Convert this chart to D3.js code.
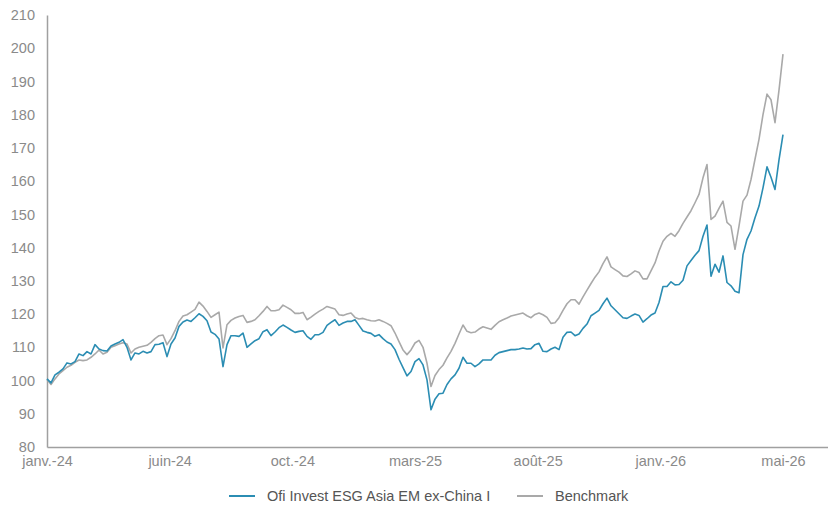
<!DOCTYPE html>
<html><head><meta charset="utf-8">
<script src="https://cdn.jsdelivr.net/npm/d3@7"></script>
<style>
html,body{margin:0;padding:0;background:#fff;}
text{font-family:"Liberation Sans",Arial,sans-serif;}
</style></head>
<body><svg id="c" width="828" height="506"></svg>
<script>
// Series names
const seriesNames = ["Ofi Invest ESG Asia EM ex-China I", "Benchmark"];
// X tick labels (evenly spaced over the observation index)
const tickLabels = ["janv.-24","juin-24","oct.-24","mars-25","août-25","janv.-26","mai-26"];
// Y ticks
const yTicks = [80,90,100,110,120,130,140,150,160,170,180,190,200,210];

// Fund (base 100), sampled observations
const fund = [
100.5, 99.3,101.7,102.5,103.5,105.3,105.0,105.7,108.0,107.5,
108.7,108.0,110.8,109.5,109.0,108.9,110.4,111.0,111.5,112.3,
110.0,106.2,108.3,108.0,108.8,108.3,108.7,110.8,110.9,111.4,
107.2,111.0,112.8,116.3,117.6,118.2,117.8,118.9,120.1,119.3,
118.0,114.6,113.9,112.5,104.2,110.8,113.5,113.5,113.3,114.3,
110.0,111.0,112.0,112.6,114.7,115.3,113.5,114.6,115.9,116.7,
116.0,115.2,114.5,114.8,115.0,113.3,112.4,113.8,113.8,114.5,
116.6,117.5,118.3,116.6,117.3,117.8,117.8,118.3,116.6,114.9,
114.5,114.2,113.3,113.8,112.6,111.6,111.0,109.3,106.4,103.9,
101.4,102.7,105.7,106.6,104.7,100.2, 91.2, 94.4, 96.0, 96.2,
 98.8,100.5,101.7,103.7,107.0,105.2,105.2,104.2,105.0,106.2,
106.2,106.2,107.6,108.4,108.7,109.0,109.3,109.3,109.5,109.8,
109.5,109.6,110.8,111.2,108.8,108.7,109.5,110.0,109.3,113.0,
114.5,114.6,113.5,114.0,115.7,117.0,119.5,120.3,121.1,123.1,
124.8,122.5,121.3,120.1,118.9,118.7,119.4,120.0,119.6,117.6,
118.6,119.7,120.3,123.5,128.3,128.3,129.7,128.8,128.9,130.2,
134.5,136.1,137.7,139.1,143.4,146.8,131.4,135.0,132.6,137.5,
129.5,128.5,126.9,126.4,137.9,142.5,145.0,149.0,152.5,158.0,
164.3,161.2,157.5,166.4,174.0];

// Benchmark (base 100), same observations
const bench = [
100.3, 98.8,100.5,102.0,103.0,104.0,104.6,105.5,106.2,106.0,
106.2,107.0,108.0,109.2,108.0,108.5,110.0,110.5,111.0,111.4,
111.0,108.3,109.5,110.0,110.3,110.6,111.5,112.6,113.5,113.7,
110.8,112.6,115.0,117.8,119.4,119.8,120.6,121.4,123.6,122.4,
120.8,119.0,119.8,120.6,109.8,116.8,118.1,118.8,119.3,119.6,
117.5,117.8,118.3,119.5,120.8,122.3,121.0,121.0,121.3,122.7,
122.0,121.3,120.2,120.2,120.5,118.3,119.1,120.0,120.8,121.5,
122.3,121.9,121.5,119.8,119.6,120.0,120.3,119.0,118.5,118.7,
118.3,118.0,117.9,118.3,117.8,117.2,116.5,114.3,111.7,109.2,
107.8,109.2,111.3,112.1,110.0,105.2, 98.2,101.5,103.3,104.6,
106.8,108.8,111.2,114.0,116.7,114.8,114.4,114.6,115.5,116.2,
115.8,115.4,116.6,117.7,118.3,118.8,119.4,119.7,120.0,120.3,
119.5,118.9,119.9,120.3,119.8,119.0,117.2,117.4,118.9,121.1,
123.1,124.3,124.3,123.0,125.2,127.2,129.2,131.1,132.7,135.2,
137.2,134.2,133.4,132.6,131.5,131.3,132.1,133.0,132.5,130.6,
130.6,133.0,135.4,139.0,141.9,143.4,144.3,143.4,145.1,147.3,
149.2,151.1,153.5,156.0,161.0,165.0,148.5,149.5,151.8,154.0,
147.6,146.5,139.5,146.5,154.0,155.8,160.5,166.6,172.6,180.0,
186.2,184.5,177.6,187.4,198.2];

(function () {
const colors = ["#2b8db3", "#a9a9a9"];
const svg = d3.select("#c");
const W = 828, H = 506;
const mLeft = 47, mRight = 828, mTop = 15, mBottom = 447;
const n = fund.length - 1;           // last observation index
const lastX = 783;                    // pixel of last observation
const x = d3.scaleLinear().domain([0, n]).range([mLeft, lastX]);
const xEnd = x.invert(mRight);
const xAxisScale = d3.scaleLinear().domain([0, xEnd]).range([mLeft, mRight]);
const y = d3.scaleLinear().domain([80, 210]).range([mBottom, mTop]);

svg.append("rect").attr("width", W).attr("height", H).attr("fill", "#fff");

// Y axis
const yAxis = svg.append("g").attr("transform", `translate(${mLeft},0)`)
  .call(d3.axisLeft(y).tickValues(yTicks).tickSize(0).tickPadding(12).tickFormat(d3.format("d")));
yAxis.select(".domain").attr("stroke", "#a0a0a0").attr("stroke-width", 1.5);
yAxis.selectAll("text").attr("fill", "#8a8a8a").style("font-size", "14.5px");

// X axis
const tickPos = tickLabels.map((_, i) => i * n / (tickLabels.length - 1));
const xAxis = svg.append("g").attr("transform", `translate(0,${mBottom})`)
  .call(d3.axisBottom(xAxisScale).tickValues(tickPos).tickSize(0).tickPadding(9)
    .tickFormat((d, i) => tickLabels[i]));
xAxis.select(".domain").attr("stroke", "#a0a0a0").attr("stroke-width", 1.5);
xAxis.selectAll("text").attr("fill", "#8a8a8a").style("font-size", "14.5px");

// Lines
const line = d3.line().x((d, i) => x(i)).y(d => y(d));
svg.append("path").datum(bench).attr("d", line).attr("fill", "none")
  .attr("stroke", colors[1]).attr("stroke-width", 1.6).attr("stroke-linejoin", "round");
svg.append("path").datum(fund).attr("d", line).attr("fill", "none")
  .attr("stroke", colors[0]).attr("stroke-width", 1.6).attr("stroke-linejoin", "round");

// Legend
const legY = 496;
const leg = svg.append("g");
const items = [{name: seriesNames[0], c: colors[0], x0: 229}, {name: seriesNames[1], c: colors[1], x0: 517}];
items.forEach(it => {
  leg.append("line").attr("x1", it.x0).attr("x2", it.x0 + 26).attr("y1", legY).attr("y2", legY)
    .attr("stroke", it.c).attr("stroke-width", 2);
  leg.append("text").attr("x", it.x0 + 38).attr("y", legY).attr("dy", "0.35em")
    .attr("fill", "#555").style("font-size", "14.5px").text(it.name);
});
})();
</script></body></html>
